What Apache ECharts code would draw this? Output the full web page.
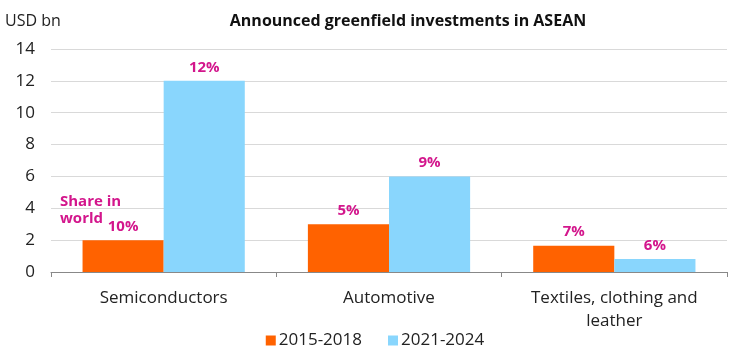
<!DOCTYPE html>
<html><head><meta charset="utf-8">
<script src="https://cdn.jsdelivr.net/npm/echarts@6/dist/echarts.min.js"></script>
<style>html,body{margin:0;padding:0;background:#fff}#c{width:750px;height:359px}</style>
</head><body><div id="c"></div>
<script>
var categories = ["Semiconductors", "Automotive", "Textiles, clothing and\nleather"];
var seriesNames = ["2015-2018", "2021-2024"];
var values2015 = [2.0, 3.0, 1.65];
var values2021 = [12.0, 6.0, 0.82];
var share2015 = ["10%", "5%", "7%"];
var share2021 = ["12%", "9%", "6%"];
var yTicks = [0, 2, 4, 6, 8, 10, 12, 14];

var chart = echarts.init(document.getElementById('c'));
var font = "'Open Sans', Lato, sans-serif";
var magenta = '#D3168C';
function lbl(arr){return {show:true, position:'top', distance:6, color:magenta, fontWeight:'bold', fontSize:15, fontFamily:font, formatter:function(p){return arr[p.dataIndex];}};}
chart.setOption({
  animation:false,
  textStyle:{fontFamily:font},
  title:[{text:'Announced greenfield investments in ASEAN', left:403, textAlign:'center', top:8,
    textStyle:{fontSize:16, fontWeight:'bold', color:'#111', fontFamily:font}},
    {text:'USD bn', left:0, top:8, textStyle:{fontSize:16, fontWeight:'normal', color:'#222', fontFamily:font}}],
  grid:{left:51, right:23, top:49, bottom:87},
  legend:{bottom:5, left:'center', itemWidth:10, itemHeight:10, itemGap:26, icon:'rect',
    textStyle:{fontSize:17, color:'#222', fontFamily:font, padding:[0,0,0,-2]}},
  graphic:[{type:'text', left:60, top:193, style:{text:'Share in\nworld', fill:magenta, font:'bold 15px ' + font, lineHeight:17}}],
  xAxis:{type:'category', data:categories,
    axisLine:{lineStyle:{color:'#888'}},
    axisTick:{show:true, length:5, lineStyle:{color:'#888'}},
    axisLabel:{fontSize:17, color:'#222', margin:15, lineHeight:23, fontFamily:font}},
  yAxis:{type:'value', min:0, max:14, interval:2,
    axisLabel:{fontSize:17, color:'#222', margin:16, fontFamily:font,
      formatter:function(v){return yTicks.indexOf(v)>=0?String(v):'';}},
    splitLine:{lineStyle:{color:'#d9d9d9'}}, axisLine:{show:false}, axisTick:{show:false}},
  series:[
    {name:seriesNames[0], type:'bar', data:values2015, barWidth:'36%', barGap:'0%',
     itemStyle:{color:'#FF6200'}, label:lbl(share2015)},
    {name:seriesNames[1], type:'bar', data:values2021, barWidth:'36%', barGap:'0%',
     itemStyle:{color:'#89D6FD'}, label:lbl(share2021)}
  ]
});
</script></body></html>
